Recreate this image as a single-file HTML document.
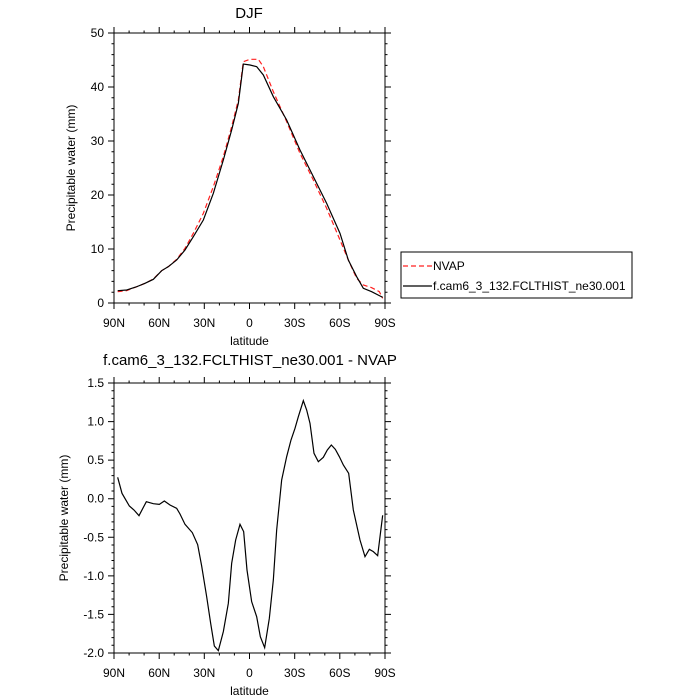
<!DOCTYPE html>
<html><head><style>body{margin:0;background:#fff}svg{display:block}text{font-family:"Liberation Sans",sans-serif;fill:#000}</style></head>
<body>
<svg width="700" height="700" viewBox="0 0 700 700" xmlns="http://www.w3.org/2000/svg">
<g id="top">
<text x="249" y="18" font-size="15" text-anchor="middle">DJF</text>
<rect x="114" y="33" width="271" height="270" fill="none" stroke="#000" stroke-width="1"/>
<g stroke="#000" stroke-width="1">
<path d="M108 303H114M108 249H114M108 195H114M108 141H114M108 87H114M108 33H114M385 303H391M385 249H391M385 195H391M385 141H391M385 87H391M385 33H391"/>
<path d="M114 292.2h-2.5M114 281.4h-2.5M114 270.6h-2.5M114 259.8h-2.5M114 238.2h-2.5M114 227.4h-2.5M114 216.6h-2.5M114 205.8h-2.5M114 184.2h-2.5M114 173.4h-2.5M114 162.6h-2.5M114 151.8h-2.5M114 130.2h-2.5M114 119.4h-2.5M114 108.6h-2.5M114 97.8h-2.5M114 76.2h-2.5M114 65.4h-2.5M114 54.6h-2.5M114 43.8h-2.5M385 292.2h2.5M385 281.4h2.5M385 270.6h2.5M385 259.8h2.5M385 238.2h2.5M385 227.4h2.5M385 216.6h2.5M385 205.8h2.5M385 184.2h2.5M385 173.4h2.5M385 162.6h2.5M385 151.8h2.5M385 130.2h2.5M385 119.4h2.5M385 108.6h2.5M385 97.8h2.5M385 76.2h2.5M385 65.4h2.5M385 54.6h2.5M385 43.8h2.5"/>
<path d="M114 303v6M159.2 303v6M204.3 303v6M249.5 303v6M294.7 303v6M339.8 303v6M385 303v6M114 33v-6M159.2 33v-6M204.3 33v-6M249.5 33v-6M294.7 33v-6M339.8 33v-6M385 33v-6"/>
<path d="M129.1 303v2.5M144.1 303v2.5M174.2 303v2.5M189.3 303v2.5M219.4 303v2.5M234.4 303v2.5M264.6 303v2.5M279.6 303v2.5M309.7 303v2.5M324.8 303v2.5M354.9 303v2.5M369.9 303v2.5M129.1 33v-2.5M144.1 33v-2.5M174.2 33v-2.5M189.3 33v-2.5M219.4 33v-2.5M234.4 33v-2.5M264.6 33v-2.5M279.6 33v-2.5M309.7 33v-2.5M324.8 33v-2.5M354.9 33v-2.5M369.9 33v-2.5"/>
</g>
<g font-size="12" text-anchor="end">
<text x="104" y="307">0</text><text x="104" y="253">10</text><text x="104" y="199">20</text><text x="104" y="145">30</text><text x="104" y="91">40</text><text x="104" y="37">50</text>
</g>
<g font-size="12" text-anchor="middle">
<text x="114" y="327">90N</text><text x="159.2" y="327">60N</text><text x="204.3" y="327">30N</text><text x="249.5" y="327">0</text><text x="294.7" y="327">30S</text><text x="339.8" y="327">60S</text><text x="385" y="327">90S</text>
<text x="249.5" y="345" font-size="12">latitude</text>
<text transform="translate(75,168) rotate(-90)" font-size="12">Precipitable water (mm)</text>
</g>
<g transform="translate(60,20) scale(0.33333)" fill="none">
<polyline vector-effect="non-scaling-stroke" stroke="#ff2020" stroke-width="1.2" stroke-dasharray="5,3" points="173,815 200,812 228,801 255,790 280,777 305,752 325,740 350,718 375,685 400,640 430,580 460,500 490,410 515,320 535,240 550,125 570,118 595,118 610,140 640,215 680,305 720,400 760,480 800,565 840,660 865,720 890,775 910,795 935,803 958,815 968,835"/>
<polyline vector-effect="non-scaling-stroke" stroke="#000" stroke-width="1.2" points="173,812 200,810 228,801 255,790 280,778 305,752 325,740 350,720 375,690 400,650 430,600 460,520 490,420 515,330 535,250 550,132 570,135 590,140 610,165 640,230 680,300 720,390 760,470 800,550 840,640 865,720 890,770 910,805 935,815 968,832"/>
</g>
<rect x="401" y="252" width="231" height="46" fill="none" stroke="#000" stroke-width="1"/>
<line x1="403" y1="266" x2="432" y2="266" stroke="#ff2020" stroke-width="1.2" stroke-dasharray="5,3"/>
<line x1="403" y1="286" x2="432" y2="286" stroke="#000" stroke-width="1.2"/>
<text x="433" y="270" font-size="12">NVAP</text>
<text x="433" y="290" font-size="12">f.cam6_3_132.FCLTHIST_ne30.001</text>
</g>
<g id="bottom">
<text x="250" y="365" font-size="15" text-anchor="middle">f.cam6_3_132.FCLTHIST_ne30.001 - NVAP</text>
<rect x="114" y="383" width="271" height="270" fill="none" stroke="#000" stroke-width="1"/>
<g stroke="#000" stroke-width="1">
<path d="M108 653H114M108 614.4H114M108 575.9H114M108 537.3H114M108 498.7H114M108 460.1H114M108 421.6H114M108 383H114M385 653H391M385 614.4H391M385 575.9H391M385 537.3H391M385 498.7H391M385 460.1H391M385 421.6H391M385 383H391"/>
<path d="M114 645.3h-2.5M114 637.6h-2.5M114 629.9h-2.5M114 622.1h-2.5M114 606.7h-2.5M114 599h-2.5M114 591.3h-2.5M114 583.6h-2.5M114 568.2h-2.5M114 560.5h-2.5M114 552.7h-2.5M114 545h-2.5M114 529.6h-2.5M114 521.9h-2.5M114 514.1h-2.5M114 506.4h-2.5M114 491h-2.5M114 483.3h-2.5M114 475.6h-2.5M114 467.9h-2.5M114 452.4h-2.5M114 444.7h-2.5M114 437h-2.5M114 429.3h-2.5M114 413.9h-2.5M114 406.1h-2.5M114 398.4h-2.5M114 390.7h-2.5M385 645.3h2.5M385 637.6h2.5M385 629.9h2.5M385 622.1h2.5M385 606.7h2.5M385 599h2.5M385 591.3h2.5M385 583.6h2.5M385 568.2h2.5M385 560.5h2.5M385 552.7h2.5M385 545h2.5M385 529.6h2.5M385 521.9h2.5M385 514.1h2.5M385 506.4h2.5M385 491h2.5M385 483.3h2.5M385 475.6h2.5M385 467.9h2.5M385 452.4h2.5M385 444.7h2.5M385 437h2.5M385 429.3h2.5M385 413.9h2.5M385 406.1h2.5M385 398.4h2.5M385 390.7h2.5"/>
<path d="M114 653v6M159.2 653v6M204.3 653v6M249.5 653v6M294.7 653v6M339.8 653v6M385 653v6M114 383v-6M159.2 383v-6M204.3 383v-6M249.5 383v-6M294.7 383v-6M339.8 383v-6M385 383v-6"/>
<path d="M129.1 653v2.5M144.1 653v2.5M174.2 653v2.5M189.3 653v2.5M219.4 653v2.5M234.4 653v2.5M264.6 653v2.5M279.6 653v2.5M309.7 653v2.5M324.8 653v2.5M354.9 653v2.5M369.9 653v2.5M129.1 383v-2.5M144.1 383v-2.5M174.2 383v-2.5M189.3 383v-2.5M219.4 383v-2.5M234.4 383v-2.5M264.6 383v-2.5M279.6 383v-2.5M309.7 383v-2.5M324.8 383v-2.5M354.9 383v-2.5M369.9 383v-2.5"/>
</g>
<g font-size="12" text-anchor="end">
<text x="104" y="657">-2.0</text><text x="104" y="618.4">-1.5</text><text x="104" y="579.9">-1.0</text><text x="104" y="541.3">-0.5</text><text x="104" y="502.7">0.0</text><text x="104" y="464.1">0.5</text><text x="104" y="425.6">1.0</text><text x="104" y="387">1.5</text>
</g>
<g font-size="12" text-anchor="middle">
<text x="114" y="677">90N</text><text x="159.2" y="677">60N</text><text x="204.3" y="677">30N</text><text x="249.5" y="677">0</text><text x="294.7" y="677">30S</text><text x="339.8" y="677">60S</text><text x="385" y="677">90S</text>
<text x="249.5" y="695">latitude</text>
<text transform="translate(68,518) rotate(-90)">Precipitable water (mm)</text>
</g>
<g transform="translate(60,370) scale(0.33333)" fill="none">
<polyline vector-effect="non-scaling-stroke" stroke="#000" stroke-width="1.2" points="173,322 186,370 208,408 222,420 237,437 259,395 280,401 298,403 313,393 330,405 350,415 360,432 375,463 397,488 413,524 425,588 440,680 452,760 463,828 475,842 490,785 505,700 515,580 527,510 540,463 551,485 561,600 575,695 590,740 601,800 614,833 628,745 640,630 650,480 665,330 680,260 693,210 705,175 715,140 730,92 740,120 750,160 762,250 775,275 790,262 802,240 814,225 826,238 838,260 850,285 866,310 880,420 900,510 915,560 928,538 940,545 953,557 968,436"/>
</g>
</g>
</svg>
</body></html>
